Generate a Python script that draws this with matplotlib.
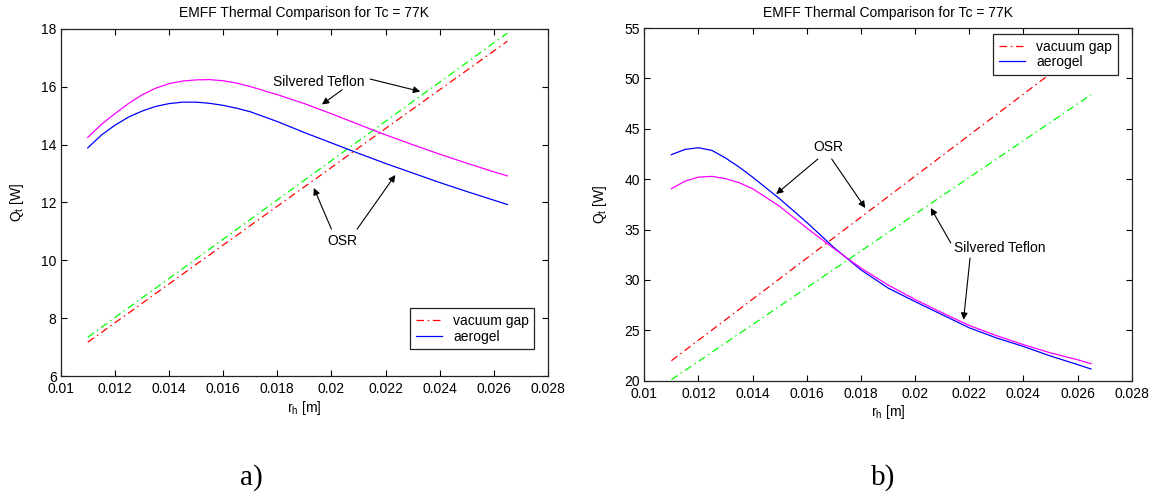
import matplotlib
matplotlib.use("Agg")
import matplotlib.pyplot as plt

plt.rcParams['font.family'] = ['Liberation Sans', 'DejaVu Sans']
plt.rcParams['mathtext.fontset'] = 'custom'
plt.rcParams['mathtext.rm'] = 'Liberation Sans'
plt.rcParams['mathtext.it'] = 'Liberation Sans'

# ---------------- data: panel a ----------------
x_a = [0.011, 0.0115, 0.012, 0.0125, 0.013, 0.0135, 0.014, 0.0145, 0.015, 0.0155,
       0.016, 0.0165, 0.017, 0.018, 0.019, 0.020, 0.021, 0.022, 0.023, 0.024,
       0.025, 0.026, 0.0265]
osr_vac_a = [7.17, 7.50, 7.84, 8.17, 8.51, 8.85, 9.18, 9.52, 9.86, 10.19,
             10.53, 10.86, 11.20, 11.87, 12.54, 13.21, 13.89, 14.56, 15.23, 15.90,
             16.57, 17.24, 17.58]
st_vac_a = [7.34, 7.68, 8.02, 8.36, 8.70, 9.03, 9.37, 9.71, 10.05, 10.39,
            10.73, 11.07, 11.41, 12.09, 12.77, 13.45, 14.13, 14.81, 15.49, 16.16,
            16.84, 17.52, 17.86]
osr_aer_a = [13.89, 14.33, 14.67, 14.95, 15.16, 15.32, 15.42, 15.47, 15.47, 15.43,
             15.36, 15.26, 15.14, 14.80, 14.42, 14.06, 13.70, 13.35, 13.02, 12.69,
             12.38, 12.08, 11.93]
st_aer_a = [14.25, 14.70, 15.07, 15.42, 15.72, 15.95, 16.11, 16.20, 16.24, 16.25,
            16.21, 16.13, 16.01, 15.73, 15.42, 15.07, 14.70, 14.34, 14.00, 13.67,
            13.36, 13.06, 12.92]

# ---------------- data: panel b ----------------
x_b = [0.011, 0.0115, 0.012, 0.0125, 0.013, 0.0135, 0.014, 0.015, 0.016, 0.017,
       0.018, 0.019, 0.020, 0.021, 0.022, 0.023, 0.024, 0.025, 0.026, 0.0265]
osr_vac_b = [21.98, 23.00, 24.02, 25.03, 26.05, 27.07, 28.09, 30.12, 32.16, 34.19,
             36.23, 38.26, 40.30, 42.33, 44.37, 46.40, 48.44, 50.47, 52.51, 53.52]
st_vac_b = [20.10, 21.01, 21.92, 22.83, 23.75, 24.66, 25.57, 27.40, 29.22, 31.05,
            32.87, 34.70, 36.52, 38.35, 40.17, 41.99, 43.82, 45.64, 47.47, 48.38]
osr_aer_b = [42.43, 42.95, 43.12, 42.85, 42.10, 41.20, 40.20, 38.05, 35.71, 33.22,
             31.00, 29.20, 27.85, 26.55, 25.25, 24.25, 23.40, 22.45, 21.60, 21.16]
st_aer_b = [39.05, 39.80, 40.20, 40.28, 40.05, 39.65, 39.05, 37.30, 35.15, 33.12,
            31.18, 29.50, 28.06, 26.74, 25.48, 24.48, 23.58, 22.76, 22.08, 21.69]

x_ticks = [0.01, 0.012, 0.014, 0.016, 0.018, 0.02, 0.022, 0.024, 0.026, 0.028]
x_tick_labels = ['0.01', '0.012', '0.014', '0.016', '0.018', '0.02', '0.022',
                 '0.024', '0.026', '0.028']
y_ticks_a = [6, 8, 10, 12, 14, 16, 18]
y_ticks_b = [20, 25, 30, 35, 40, 45, 50, 55]

title = 'EMFF Thermal Comparison for Tc = 77K'
legend_labels = ['vacuum gap', 'aerogel']

W, H = 1151, 497
fig = plt.figure(figsize=(W / 100, H / 100), dpi=100)

def px_axes(l, r, t, b):
    return fig.add_axes([l / W, 1 - b / H, (r - l) / W, (b - t) / H])

ax_a = px_axes(60.7, 548.0, 29.0, 376.0)
ax_b = px_axes(644.3, 1131.7, 28.0, 380.7)

DASH = (6, 3, 1.2, 3)

def draw(ax, x, osr_vac, st_vac, osr_aer, st_aer, yticks, ylim, leg_anchor):
    l1, = ax.plot(x, osr_vac, color='#ff0000', lw=0.9, dashes=DASH, label=legend_labels[0])
    ax.plot(x, st_vac, color='#00ff00', lw=0.9, dashes=DASH)
    l2, = ax.plot(x, osr_aer, color='#0000ff', lw=0.9, label=legend_labels[1])
    ax.plot(x, st_aer, color='#ff00ff', lw=0.9)
    ax.set_xlim(0.01, 0.028)
    ax.set_ylim(*ylim)
    ax.set_xticks(x_ticks)
    ax.set_xticklabels(x_tick_labels)
    ax.set_yticks(yticks)
    ax.set_yticklabels([str(v) for v in yticks])
    ax.tick_params(direction='in', top=True, right=True, length=4, width=0.8,
                   labelsize=10, pad=3)
    ax.tick_params(axis='x', pad=4.5)
    for s in ax.spines.values():
        s.set_linewidth(0.9)
        s.set_color('#222222')
    ax.set_xlabel(r'$\mathregular{r_h}$ [m]', fontsize=10)
    ax.set_ylabel(r'$\mathregular{Q_t}$ [W]', fontsize=10)
    leg = ax.legend(handles=[l1, l2], loc='upper left', bbox_to_anchor=leg_anchor,
                    borderaxespad=0, fontsize=10, fancybox=False, framealpha=1,
                    edgecolor='#222222', handlelength=1.9, labelspacing=0.12,
                    borderpad=0.4, handletextpad=0.8)
    leg.get_frame().set_linewidth(0.9)
    leg.set_zorder(10)

draw(ax_a, x_a, osr_vac_a, st_vac_a, osr_aer_a, st_aer_a, y_ticks_a, (6, 18),
     (0.7168, 0.1951))
draw(ax_b, x_b, osr_vac_b, st_vac_b, osr_aer_b, st_aer_b, y_ticks_b, (20, 55),
     (0.716, 0.983))

ax_a.yaxis.set_label_coords(-0.071, 0.5)
ax_b.yaxis.set_label_coords(-0.073, 0.5)
ax_a.xaxis.set_label_coords(0.5, -0.065)
ax_b.xaxis.set_label_coords(0.5, -0.064)

fig.text(304.4 / W, 1 - 13 / H, title, ha='center', va='center', fontsize=10)
fig.text(888.0 / W, 1 - 13 / H, title, ha='center', va='center', fontsize=10)

arrow_kw = dict(arrowstyle='-|>', color='black', lw=0.8, mutation_scale=10,
                shrinkA=0, shrinkB=0)

# panel a annotations
ax_a.text(0.01955, 16.18, 'Silvered Teflon', ha='center', va='center', fontsize=10)
ax_a.annotate('', xy=(0.01965, 15.39), xytext=(0.0204, 15.9), arrowprops=arrow_kw)
ax_a.annotate('', xy=(0.02328, 15.84), xytext=(0.02143, 16.27), arrowprops=arrow_kw)
ax_a.text(0.0204, 10.68, 'OSR', ha='center', va='center', fontsize=10)
ax_a.annotate('', xy=(0.01935, 12.5), xytext=(0.0200, 11.08), arrowprops=arrow_kw)
ax_a.annotate('', xy=(0.02236, 12.95), xytext=(0.02095, 11.08), arrowprops=arrow_kw)

# panel b annotations
ax_b.text(0.01679, 43.19, 'OSR', ha='center', va='center', fontsize=10)
ax_b.annotate('', xy=(0.01487, 38.52), xytext=(0.01641, 42.0), arrowprops=arrow_kw)
ax_b.annotate('', xy=(0.01816, 37.14), xytext=(0.01692, 42.0), arrowprops=arrow_kw)
ax_b.text(0.02313, 33.17, 'Silvered Teflon', ha='center', va='center', fontsize=10)
ax_b.annotate('', xy=(0.02058, 37.14), xytext=(0.02132, 33.66), arrowprops=arrow_kw)
ax_b.annotate('', xy=(0.02179, 26.05), xytext=(0.02203, 32.17), arrowprops=arrow_kw)

fig.text(251.7 / W, 1 - 478 / H, 'a)', ha='center', va='center', fontsize=21,
         family='Liberation Serif')
fig.text(883.0 / W, 1 - 478 / H, 'b)', ha='center', va='center', fontsize=21,
         family='Liberation Serif')

fig.savefig('out.png', dpi=100)
